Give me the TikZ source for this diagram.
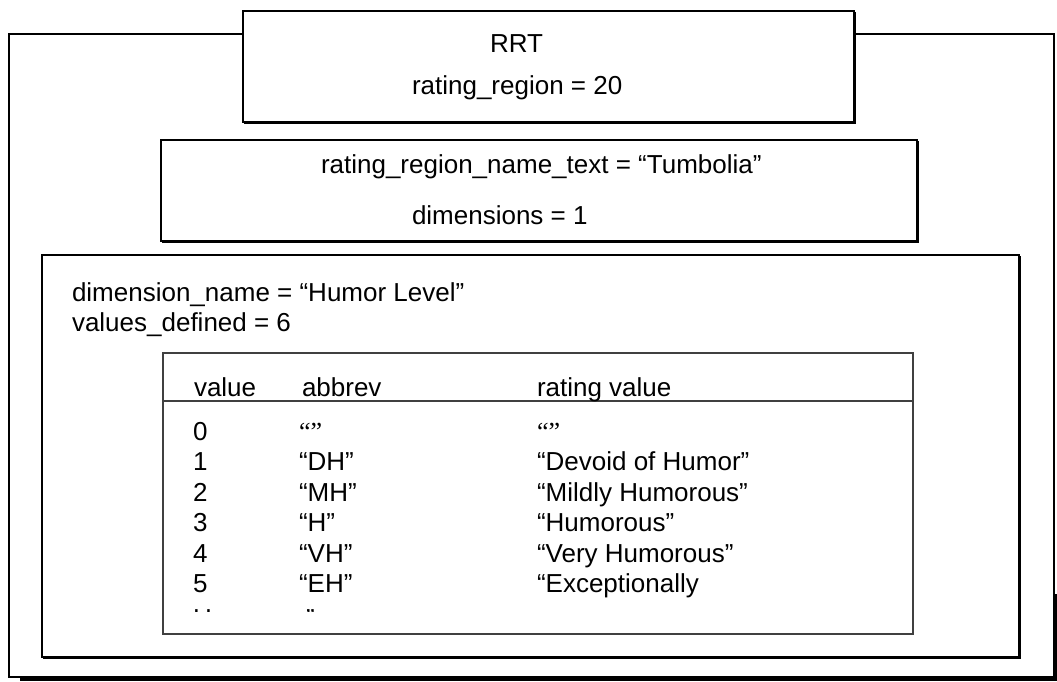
\documentclass[tikz,border=0pt]{standalone}
\usepackage{fontspec}
\setmainfont{Liberation Sans}
\newfontfamily\serifq{Liberation Serif}
\begin{document}
\begin{tikzpicture}[x=1pt,y=-1pt,
  box/.style={draw=black, line width=2pt, fill=white, inner sep=0pt, outer sep=0pt, anchor=north west},
  tbox/.style={draw=black!75, line width=1.1pt, fill=white, inner sep=0pt, outer sep=0pt, anchor=north west},
  rule/.style={draw=black!75, line width=1.1pt},
  shadowline/.style={draw=black, line width=1.5pt},
  bigshadow/.style={draw=black, line width=3pt},
  txt/.style={anchor=base west, inner sep=0pt, outer sep=0pt, font=\fontsize{26pt}{30pt}\selectfont}]
\useasboundingbox (0,0) rectangle (1057,682);
% outer frame
\node[box, minimum width=1045pt, minimum height=643pt] (outer) at (9,34) {};
\coordinate (os1) at ([xshift=11pt,yshift=-2.5pt]outer.south west);
\coordinate (os2) at ([xshift=2.5pt,yshift=-2.5pt]outer.south east);
\coordinate (os3) at ([xshift=2.5pt,yshift=-560pt]outer.north east);
\draw[bigshadow] (os1) -- (os2) -- (os3);
% RRT box
\node[box, minimum width=611pt, minimum height=111pt] (rrt) at (243,11) {};
\draw[shadowline] ([xshift=1pt,yshift=-1pt]rrt.south west) -- ([xshift=1pt,yshift=-1pt]rrt.south east) -- ([xshift=1pt,yshift=-1pt]rrt.north east);
\node[txt] (rrtlabel) at (490,53) {RRT};
\node[txt] (rrtregion) at (412,95) {rating\_region = 20};
% region name box
\node[box, minimum width=756pt, minimum height=101pt] (namebox) at (161,140) {};
\draw[shadowline] ([xshift=1pt,yshift=-1pt]namebox.south west) -- ([xshift=1pt,yshift=-1pt]namebox.south east) -- ([xshift=1pt,yshift=-1pt]namebox.north east);
\node[txt] (nametext) at (321,173) {rating\_region\_name\_text = “Tumbolia”};
\node[txt] (dims) at (412,224) {dimensions = 1};
% dimension box
\node[box, minimum width=977pt, minimum height=402pt] (dimbox) at (42,255) {};
\draw[shadowline] ([xshift=1pt,yshift=-1pt]dimbox.south west) -- ([xshift=1pt,yshift=-1pt]dimbox.south east) -- ([xshift=1pt,yshift=-1pt]dimbox.north east);
\node[txt] (dimname) at (72,301) {dimension\_name = “Humor Level”};
\node[txt] (valdef) at (72,331) {values\_defined = 6};
% table
\node[tbox, minimum width=750pt, minimum height=281pt] (table) at (163,353) {};
\draw[rule] ([yshift=-48pt]table.north west) -- ([yshift=-48pt]table.north east);
\node[txt] (hvalue) at (194,396) {value};
\node[txt] (habbrev) at (302,396) {abbrev};
\node[txt] (hrating) at (537,396) {rating value};
% rows
\node[txt] (v0) at (193,440) {0};
\node[txt] (a0) at (299,440) {\serifq “”};
\node[txt] (r0) at (537,440) {\serifq “”};
\node[txt] (v1) at (193,470.5) {1};
\node[txt] (a1) at (299,470.5) {“DH”};
\node[txt] (r1) at (537,470.5) {“Devoid of Humor”};
\node[txt] (v2) at (193,501) {2};
\node[txt] (a2) at (299,501) {“MH”};
\node[txt] (r2) at (537,501) {“Mildly Humorous”};
\node[txt] (v3) at (193,531.5) {3};
\node[txt] (a3) at (299,531.5) {“H”};
\node[txt] (r3) at (537,531.5) {“Humorous”};
\node[txt] (v4) at (193,562) {4};
\node[txt] (a4) at (299,562) {“VH”};
\node[txt] (r4) at (537,562) {“Very Humorous”};
\node[txt] (v5) at (193,592) {5};
\node[txt] (a5) at (299,592) {“EH”};
\node[txt] (r5) at (537,592) {“Exceptionally};
\begin{scope}
  \clip (163,600) rectangle (913,611.5);
  \node[txt] (v6) at (193,627) {H};
  \node[txt] (a6) at (306,627) {”};
\end{scope}
\end{tikzpicture}
\end{document}
